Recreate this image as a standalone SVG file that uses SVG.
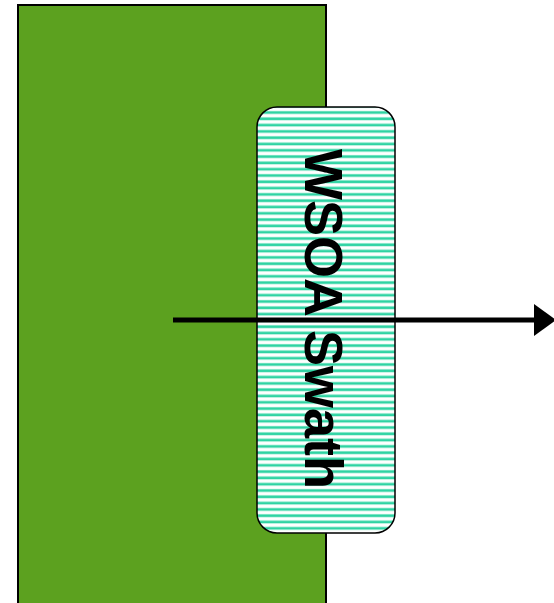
<svg xmlns="http://www.w3.org/2000/svg" width="554" height="603" viewBox="0 0 554 603">
<style>
.field{fill:#5ca11f;stroke:#000;stroke-width:2}
.swath{fill:url(#stripes);stroke:#000;stroke-width:1.5}
.lbl{font-family:"Liberation Sans",Arial,sans-serif;font-weight:bold;font-size:54px;fill:#000}
.conn{stroke:#000;stroke-width:5;fill:none}
</style>
<defs>
<pattern id="stripes" patternUnits="userSpaceOnUse" x="0" y="110" width="10" height="6.3">
<rect x="0" y="0" width="10" height="6.3" fill="#fff"/>
<rect x="0" y="0.8" width="10" height="3.4" fill="#a8eed8"/>
<rect x="0" y="1.4" width="10" height="2.2" fill="#2fd3a3"/>
</pattern>
<marker id="ah" markerUnits="userSpaceOnUse" markerWidth="22" markerHeight="32" refX="0" refY="16" orient="auto">
<path d="M0,0 L22,16 L0,32 Z" fill="#000"/>
</marker>
</defs>
<g id="field">
<rect class="field" x="18" y="5" width="308" height="600"/>
</g>
<g id="swath">
<rect class="swath" x="257" y="107" width="138" height="426" rx="20" ry="20"/>
<text class="lbl" transform="translate(305,319) rotate(90)" text-anchor="middle">WSOA Swath</text>
</g>
<g id="connectors">
<line class="conn" x1="173" y1="320" x2="534" y2="320" marker-end="url(#ah)"/>
</g>
</svg>
